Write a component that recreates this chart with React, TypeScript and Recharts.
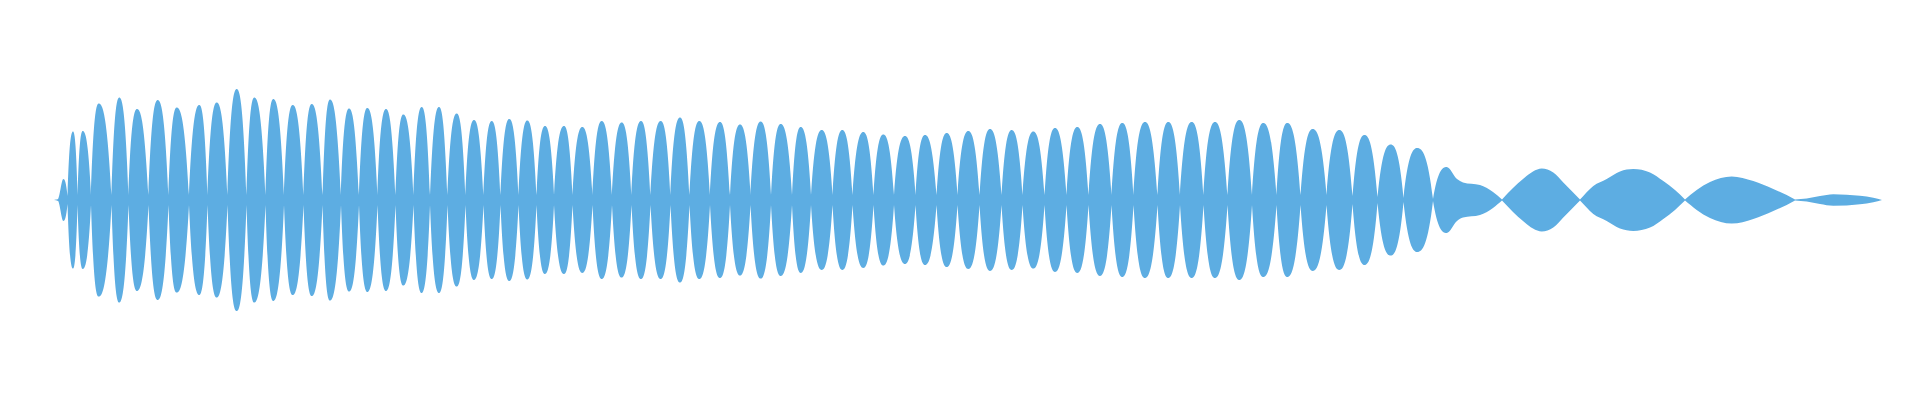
import React from 'react';
import { AreaChart, Area, XAxis, YAxis } from 'recharts';

// Waveform envelope.
// frame = horizontal sample position (0..1920), level = amplitude in % of full scale.
const junctionFrames = [54, 67.5, 77.5, 91, 111.5, 128.5, 148.5, 168.5, 189, 207.5, 227.5, 246.5, 265.5, 284, 303.5, 322.5, 341, 359, 377.5, 395.5, 413.5, 430, 447.5, 465.5, 483.5, 500.5, 518.5, 536.5, 554, 572.5, 592.5, 612, 631.5, 650.5, 670.5, 689.5, 710, 730, 750.5, 771, 792, 811, 832.5, 852.5, 873.5, 894, 915.5, 936.5, 957.5, 979.5, 1001.5, 1022.5, 1044.5, 1066.5, 1088.5, 1111.5, 1133.5, 1157.5, 1180, 1203.5, 1227.5, 1252, 1276.5, 1300.5, 1326.5, 1352.5, 1377.5, 1403.5, 1433, 1502, 1580, 1685, 1795, 1882];
const junctionLevels = [0, 2, 2.5, 2.5, 2.5, 2.5, 2.5, 2.5, 2.5, 2.5, 2.5, 2.5, 2.5, 2.5, 2.5, 2.5, 2.5, 2.5, 2.5, 2.5, 2.5, 2.5, 2.5, 2.5, 2.5, 2.5, 2.5, 2.5, 2.5, 2.5, 2.5, 2.5, 2.5, 2.5, 2.5, 2.5, 2.5, 2.5, 2.5, 2.5, 2.5, 2.5, 2.5, 2.5, 2.5, 2.5, 2.5, 2.5, 2.5, 2.5, 2.5, 2.5, 2.5, 2.5, 2.5, 2.5, 2.5, 2.5, 2.5, 2.5, 2.5, 2.5, 2.5, 2.5, 2.5, 2, 1.5, 1, 0.5, 0.3, 0.3, 0.3, 0.3, 0];

const peakFrames = [63.3, 73, 82.7, 98.7, 119.3, 137, 157.7, 176.7, 199.3, 216.7, 236.7, 254.3, 273.3, 292.7, 311.7, 330, 349, 367.3, 386, 403.3, 421.7, 439, 456.7, 474, 491.7, 509.3, 527.3, 545, 564, 582.3, 601.7, 621.7, 641, 660.7, 680, 699.3, 720, 740, 760.7, 780.7, 800.7, 821.7, 842.3, 863.3, 883.3, 905, 925, 946.7, 968.3, 990, 1011.7, 1033.3, 1055, 1077.3, 1100, 1122.3, 1145, 1168.3, 1191.7, 1215, 1239.3, 1263.3, 1287.3, 1312.7, 1339.3, 1364.5, 1390.7, 1417.3, 1446.7, 1541.7, 1633.3, 1731.7, 1833.3];
const peakLevels = [10.5, 34.3, 34.5, 48.3, 51.3, 45.5, 50, 46.3, 47.5, 48.8, 55.5, 51.3, 50.5, 47.5, 48, 50.3, 45.8, 46, 45.5, 42.8, 46.5, 46.5, 43.3, 40, 39.5, 40.5, 39.8, 37, 37, 36.5, 39.5, 38.8, 39.5, 39.5, 41.3, 39.5, 39, 37.8, 39.3, 38, 36.5, 35, 35, 34, 32.8, 32, 32.5, 33.5, 34.5, 35.5, 35, 34.3, 36, 36.5, 38, 38.5, 39, 39, 39, 39, 40, 38.5, 38.5, 35.5, 35, 32.5, 27.8, 26, 16.5, 15.8, 15.5, 11.8, 2.9];

const shoulderFrames = [58, 1457, 1463, 1480, 1493, 1513, 1523, 1533, 1553.3, 1563.3, 1571.7, 1593.3, 1606.7, 1620, 1650, 1663.3, 1675, 1696.7, 1710, 1753.3, 1773.3, 1786.7, 1806.7, 1820, 1860, 1873.3];
const shoulderLevels = [0.5, 10.5, 8.8, 7.5, 4, 6, 10.5, 14.3, 13.8, 8.8, 4.5, 7, 10.5, 14.3, 13.8, 9.5, 5, 5, 9, 9.5, 5.5, 2.5, 0.8, 2, 2.1, 1.1];

const data = [
  ...junctionFrames.map((f, i) => ({ frame: f, level: junctionLevels[i] })),
  ...peakFrames.map((f, i) => ({ frame: f, level: peakLevels[i] })),
  ...shoulderFrames.map((f, i) => ({ frame: f, level: shoulderLevels[i] })),
]
  .sort((a, b) => a.frame - b.frame)
  .map((p) => ({ frame: p.frame, range: [-p.level, p.level] }));

type XY = [number, number];

function slope3(p0: XY, p1: XY, p2: XY) {
  const h0 = p1[0] - p0[0];
  const h1 = p2[0] - p1[0];
  const s0 = h0 ? (p1[1] - p0[1]) / h0 : 0;
  const s1 = h1 ? (p2[1] - p1[1]) / h1 : 0;
  const p = h0 + h1 ? (s0 * h1 + s1 * h0) / (h0 + h1) : 0;
  return (Math.sign(s0) + Math.sign(s1)) * Math.min(Math.abs(s0), Math.abs(s1), 0.5 * Math.abs(p)) || 0;
}

// Lens-like lobes: pointed where lobes meet, rounded at the crest.
function drawLobes(ctx: any, pts: XY[], outward: number, join: boolean) {
  const n = pts.length;
  if (!n) return;
  if (join) ctx.lineTo(pts[0][0], pts[0][1]);
  else ctx.moveTo(pts[0][0], pts[0][1]);
  const kind = pts.map((p, i) => {
    if (i === 0 || i === n - 1) return 'neck';
    const a = -outward * pts[i - 1][1];
    const b = -outward * p[1];
    const c = -outward * pts[i + 1][1];
    if (b <= a && b <= c) return 'neck';
    if (b >= a && b >= c) return 'crest';
    return 'side';
  });
  for (let i = 0; i < n - 1; i++) {
    const [x0, y0] = pts[i];
    const [x1, y1] = pts[i + 1];
    const h = x1 - x0;
    const sec = h ? (y1 - y0) / h : 0;
    const endSlope = (j: number, other: number) => {
      if (kind[j] === 'crest') return 0;
      if (kind[j] === 'neck') return kind[other] === 'crest' ? 2.6 * sec : sec;
      return slope3(pts[j - 1], pts[j], pts[j + 1]);
    };
    const m0 = endSlope(i, i + 1);
    const m1 = endSlope(i + 1, i);
    ctx.bezierCurveTo(x0 + h / 3, y0 + (m0 * h) / 3, x1 - h / 3, y1 - (m1 * h) / 3, x1, y1);
  }
}

const lobeCurve: any = (ctx: any) => {
  let inArea = false;
  let lines: XY[][] = [];
  let cur: XY[] = [];
  return {
    areaStart() {
      inArea = true;
      lines = [];
    },
    areaEnd() {
      const means = lines.map((l) => l.reduce((s, p) => s + p[1], 0) / (l.length || 1));
      const top = Math.min(...means);
      lines.forEach((l, i) => drawLobes(ctx, l, means[i] === top ? 1 : -1, i > 0));
      if (lines.length) ctx.closePath();
      inArea = false;
    },
    lineStart() {
      cur = [];
    },
    lineEnd() {
      if (inArea) lines.push(cur);
      else drawLobes(ctx, cur, 1, false);
    },
    point(x: number, y: number) {
      cur.push([+x, +y]);
    },
  };
};

export default function App() {
  return (
    <div style={{ position: 'absolute', left: 0, top: 0, width: 1920, height: 400, background: '#ffffff' }}>
      <AreaChart width={1920} height={400} data={data} margin={{ top: 0, right: 0, bottom: 0, left: 0 }}>
        <XAxis dataKey="frame" type="number" domain={[0, 1920]} hide allowDataOverflow />
        <YAxis type="number" domain={[-100, 100]} hide allowDataOverflow />
        <Area
          dataKey="range"
          type={lobeCurve}
          stroke="none"
          fill="#5DADE2"
          fillOpacity={1}
          isAnimationActive={false}
          dot={false}
          activeDot={false}
        />
      </AreaChart>
    </div>
  );
}
